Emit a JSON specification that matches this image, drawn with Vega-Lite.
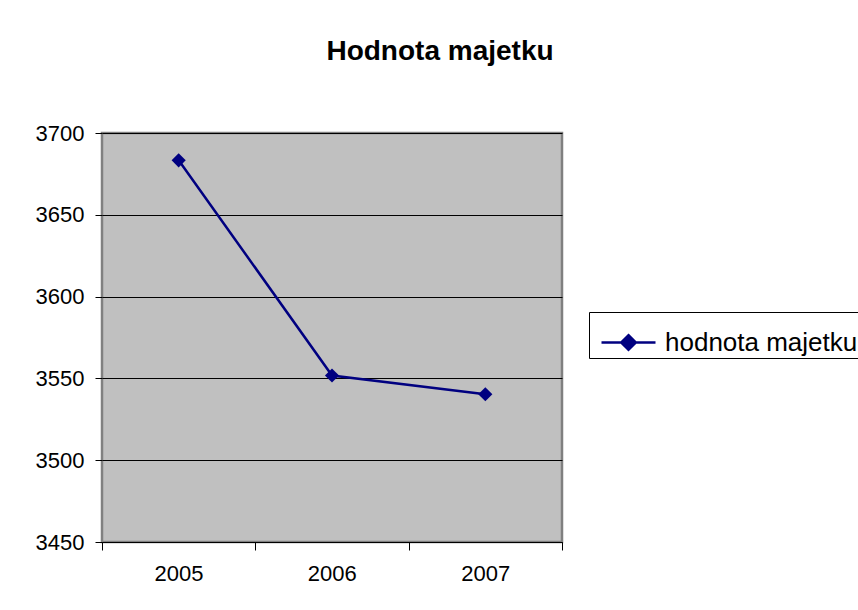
{
  "$schema": "https://vega.github.io/schema/vega-lite/v6.json",
  "width": 460,
  "height": 409,
  "autosize": "none",
  "padding": {"left": 102, "top": 133, "right": 296, "bottom": 68},
  "background": "white",
  "title": {
    "text": "Hodnota majetku",
    "font": "Liberation Sans",
    "fontSize": 28,
    "fontWeight": "bold",
    "color": "black",
    "anchor": "middle",
    "frame": "group",
    "baseline": "alphabetic",
    "dx": 108,
    "offset": 34
  },
  "config": {
    "view": {"fill": "#C0C0C0", "stroke": "#808080", "strokeWidth": 2.5},
    "axis": {"labelFont": "Liberation Sans", "labelColor": "black", "labelFontSize": 22, "tickColor": "black", "domainColor": "black"}
  },
  "data": {
    "values": [
      {"rok": 2005, "hodnota": 3683.3, "serie": "hodnota majetku"},
      {"rok": 2006, "hodnota": 3551.8, "serie": "hodnota majetku"},
      {"rok": 2007, "hodnota": 3540.3, "serie": "hodnota majetku"}
    ]
  },
  "mark": {
    "type": "line",
    "strokeWidth": 2.5,
    "point": {"shape": "diamond", "size": 200, "filled": true, "opacity": 1}
  },
  "encoding": {
    "x": {
      "field": "rok",
      "type": "quantitative",
      "scale": {"domain": [2004.5, 2007.5], "nice": false, "zero": false},
      "axis": {
        "title": null,
        "values": [2004.5, 2005.5, 2006.5, 2007.5],
        "labelExpr": "datum.value < 2007 ? format(datum.value + 0.5, 'd') : ''",
        "labelOffset": 76.5,
        "labelFlush": false,
        "labelOverlap": false,
        "labelPadding": 13,
        "tickSize": 8,
        "grid": false,
        "domain": true
      }
    },
    "y": {
      "field": "hodnota",
      "type": "quantitative",
      "scale": {"domain": [3450, 3700], "nice": false, "zero": false},
      "axis": {
        "title": null,
        "values": [3450, 3500, 3550, 3600, 3650, 3700],
        "format": "d",
        "grid": true,
        "gridColor": "black",
        "gridWidth": 1,
        "gridOpacity": 1,
        "tickSize": 7,
        "labelPadding": 11,
        "domain": false
      }
    },
    "color": {
      "field": "serie",
      "type": "nominal",
      "scale": {"range": ["#000080"]},
      "legend": {
        "title": null,
        "orient": "none",
        "legendX": 487,
        "legendY": 179,
        "fillColor": "white",
        "strokeColor": "black",
        "padding": 2,
        "symbolOffset": 9,
        "symbolType": "M-1,0H1M0,-0.27L0.27,0L0,0.27L-0.27,0Z",
        "symbolSize": 2916,
        "symbolStrokeWidth": 2.5,
        "symbolFillColor": "#000080",
        "symbolStrokeColor": "#000080",
        "labelFont": "Liberation Sans",
        "labelFontSize": 26,
        "labelColor": "black",
        "labelOffset": 8,
        "labelLimit": 400
      }
    }
  }
}
